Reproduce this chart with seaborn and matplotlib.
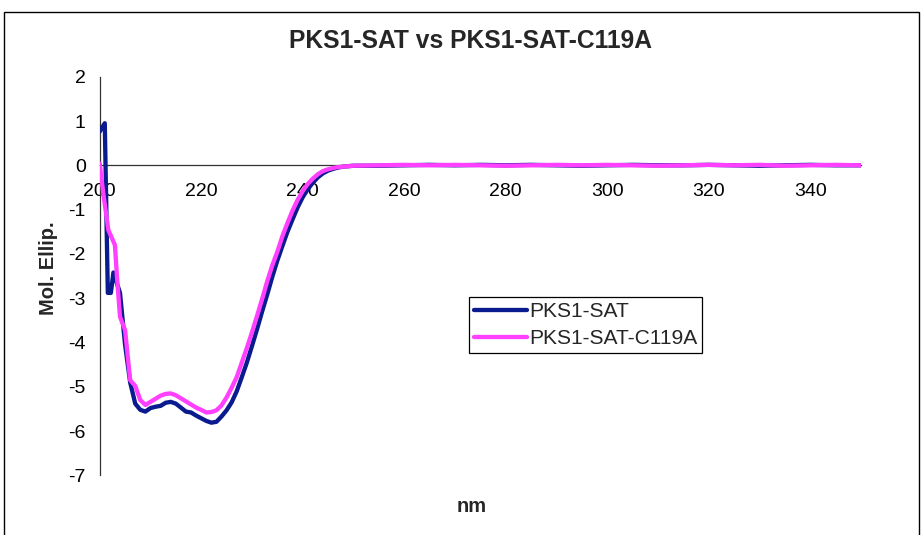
import matplotlib
matplotlib.use("Agg")
import matplotlib.pyplot as plt
from matplotlib.patches import Rectangle
import seaborn as sns
import pandas as pd

# ---- data ----
series_names = ["PKS1-SAT", "PKS1-SAT-C119A"]

sat_nm = [200, 201, 201.6, 202.2, 202.7, 204, 205, 206, 207, 208, 209, 210, 211, 212,
          213, 214, 215, 216, 217, 218, 219, 220, 221, 222, 223, 224, 225, 226, 227,
          228, 229, 230, 231, 232, 233, 234, 235, 236, 237, 238, 239, 240, 241, 242,
          243, 244, 245, 246, 247, 248, 249, 250, 255, 260, 265, 270, 275, 280, 285,
          290, 295, 300, 305, 310, 315, 320, 325, 330, 335, 340, 345, 350]
sat_val = [0.76, 0.95, -2.88, -2.88, -2.42, -2.88, -4.05, -4.90, -5.38, -5.52, -5.56,
           -5.48, -5.45, -5.43, -5.36, -5.34, -5.38, -5.47, -5.56, -5.58, -5.65, -5.71,
           -5.77, -5.81, -5.79, -5.67, -5.53, -5.35, -5.10, -4.78, -4.45, -4.08, -3.70,
           -3.30, -2.92, -2.52, -2.15, -1.82, -1.50, -1.22, -0.95, -0.72, -0.54, -0.39,
           -0.27, -0.18, -0.12, -0.08, -0.05, -0.03, -0.02, -0.01, -0.01, 0.00, 0.01,
           0.00, 0.01, 0.00, 0.01, 0.00, -0.01, 0.00, 0.01, 0.00, 0.00, 0.01, 0.00,
           -0.01, 0.00, 0.01, 0.00, 0.00]

c119a_nm = [200, 200.7, 201.7, 203, 203.4, 204, 205, 206, 207, 208, 209, 210, 211, 212,
            213, 214, 215, 216, 217, 218, 219, 220, 221, 222, 223, 224, 225, 226, 227,
            228, 229, 230, 231, 232, 233, 234, 235, 236, 237, 238, 239, 240, 241, 242,
            243, 244, 245, 246, 247, 248, 249, 250, 255, 260, 265, 270, 275, 280, 285,
            290, 295, 300, 305, 310, 315, 320, 325, 330, 335, 340, 345, 350]
c119a_val = [0.04, -0.63, -1.46, -1.80, -2.51, -3.42, -3.72, -4.85, -4.98, -5.30, -5.41,
             -5.34, -5.27, -5.20, -5.16, -5.15, -5.19, -5.26, -5.33, -5.40, -5.47, -5.52,
             -5.58, -5.57, -5.53, -5.42, -5.24, -5.02, -4.78, -4.45, -4.12, -3.77, -3.40,
             -3.02, -2.62, -2.26, -1.95, -1.60, -1.30, -1.02, -0.78, -0.58, -0.42, -0.30,
             -0.20, -0.13, -0.09, -0.06, -0.04, -0.03, -0.02, -0.01, 0.00, 0.01, 0.00,
             0.01, 0.00, -0.01, 0.00, 0.01, 0.00, 0.01, 0.00, -0.01, 0.00, 0.01, 0.00,
             0.01, -0.01, 0.00, 0.01, 0.00]

x_ticks = [200, 220, 240, 260, 280, 300, 320, 340]
y_ticks = [2, 1, 0, -1, -2, -3, -4, -5, -6, -7]

df = pd.concat([
    pd.DataFrame({"nm": sat_nm, "val": sat_val, "series": series_names[0]}),
    pd.DataFrame({"nm": c119a_nm, "val": c119a_val, "series": series_names[1]}),
], ignore_index=True)

# ---- style ----
sns.set_style("white")
plt.rcParams["font.family"] = ["Liberation Sans", "DejaVu Sans"]

W, H = 922, 535
fig = plt.figure(figsize=(W / 100, H / 100), dpi=100)
ax_l, ax_r, ax_t, ax_b = 99.7, 861, 76.7, 475.4
ax = fig.add_axes([ax_l / W, 1 - ax_b / H, (ax_r - ax_l) / W, (ax_b - ax_t) / H])

palette = {series_names[0]: "#0A1A8F", series_names[1]: "#FF40FF"}
sns.lineplot(data=df, x="nm", y="val", hue="series", palette=palette,
             estimator=None, sort=False, linewidth=3.1, ax=ax, legend=False)

ax.set_xlim(200, 350)
ax.set_ylim(-7, 2)
ax.set_xticks(x_ticks)
ax.set_yticks(y_ticks)
ax.set_xticklabels([str(t) for t in x_ticks])
ax.set_yticklabels([str(t) for t in y_ticks])
ax.spines["top"].set_visible(False)
ax.spines["right"].set_visible(False)
ax.spines["bottom"].set_position(("data", 0))
for s in ("left", "bottom"):
    ax.spines[s].set_color("#333333")
    ax.spines[s].set_linewidth(0.9)
ax.tick_params(axis="both", direction="out", length=5, width=0.9, color="#333333",
               labelsize=14, labelcolor="black", pad=5)
ax.tick_params(axis="x", pad=8)
ax.set_xlabel("")
ax.set_ylabel("")
for ln in ax.get_lines():
    ln.set_zorder(3)

fig.text(470.5 / W, 1 - 41 / H, "PKS1-SAT vs PKS1-SAT-C119A", ha="center", va="center",
         fontsize=17.7, fontweight="bold")
fig.text(48 / W, 1 - 268 / H, "Mol. Ellip.", ha="center", va="center", rotation=90,
         fontsize=14.5, fontweight="bold")
fig.text(472 / W, 1 - 507 / H, "nm", ha="center", va="center",
         fontsize=14.5, fontweight="bold")

handles = [plt.Line2D([], [], color=palette[n], linewidth=3.1) for n in series_names]
leg = fig.legend(handles, series_names, loc="upper left",
                 bbox_to_anchor=(469 / W, 1 - 297 / H), fontsize=15.1,
                 frameon=True, fancybox=False, edgecolor="black", framealpha=1,
                 borderpad=0.25, handlelength=2.5, handletextpad=0.1,
                 labelspacing=0.38, borderaxespad=0)
leg.get_frame().set_linewidth(0.9)

fig.patches.append(Rectangle((4 / W, -0.05), 915 / W, 1.05 - 11.7 / H,
                             transform=fig.transFigure, fill=False,
                             edgecolor="black", linewidth=1.0, zorder=0))

fig.savefig("out.png", dpi=100)
